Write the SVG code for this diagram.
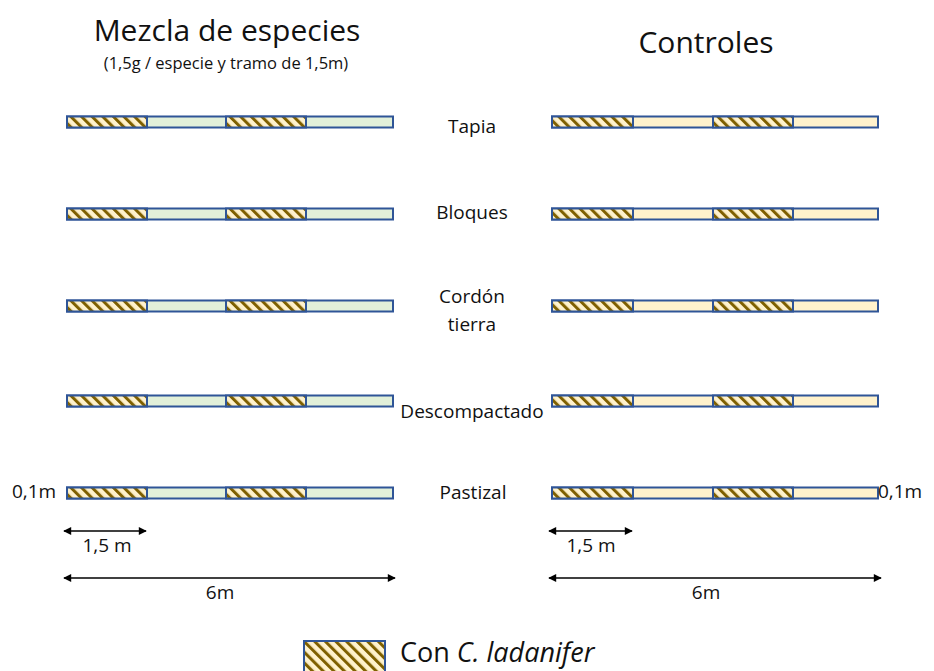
<svg xmlns="http://www.w3.org/2000/svg" width="934" height="671" viewBox="0 0 934 671">
<style>
text{font-family:"Open Sans","Liberation Sans",Arial,sans-serif;fill:#111}
.bar{stroke:#2F5597;stroke-width:2}
.g{fill:#E2F0D9}
.y{fill:#FFF2CC}
.h{fill:url(#hatch)}
.lbl{font-size:19px;text-anchor:middle}
.ttl{font-size:30px;text-anchor:middle}
.sub{font-size:16.5px;text-anchor:middle}
.ax{stroke:#000;stroke-width:1.3;fill:none;marker-start:url(#ah);marker-end:url(#ah)}
</style>
<defs>
<pattern id="hatch" patternUnits="userSpaceOnUse" width="7.5" height="7.5" patternTransform="rotate(-45)">
<rect width="7.5" height="7.5" fill="#FFF2CC"/>
<rect width="3" height="7.5" fill="#7F6000"/>
</pattern>
<marker id="ah" viewBox="0 0 10 10" refX="9" refY="5" markerWidth="10" markerHeight="8" markerUnits="userSpaceOnUse" orient="auto-start-reverse">
<path d="M0,0 L10,5 L0,10 z" fill="#000"/>
</marker>
<g id="barL">
<rect class="bar g" x="67" y="-5.5" width="326" height="11"/>
<rect class="bar h" x="67" y="-5.5" width="80" height="11"/>
<rect class="bar h" x="226" y="-5.5" width="80" height="11"/>
</g>
<g id="barR">
<rect class="bar y" x="552" y="-5.5" width="326" height="11"/>
<rect class="bar h" x="552" y="-5.5" width="81" height="11"/>
<rect class="bar h" x="713" y="-5.5" width="80" height="11"/>
</g>
</defs>
<g id="titles">
<text class="ttl" x="227" y="41">Mezcla de especies</text>
<text class="sub" x="226" y="69">(1,5g / especie y tramo de 1,5m)</text>
<text class="ttl" x="706" y="53">Controles</text>
</g>
<g id="row-tapia">
<use href="#barL" y="122"/><use href="#barR" y="122"/>
<text class="lbl" x="472" y="133">Tapia</text>
</g>
<g id="row-bloques">
<use href="#barL" y="214"/><use href="#barR" y="214"/>
<text class="lbl" x="472" y="219">Bloques</text>
</g>
<g id="row-cordon">
<use href="#barL" y="306"/><use href="#barR" y="306"/>
<text class="lbl" x="472" y="303">Cordón</text>
<text class="lbl" x="472" y="331">tierra</text>
</g>
<g id="row-descompactado">
<use href="#barL" y="401"/><use href="#barR" y="401"/>
<text class="lbl" x="472" y="418">Descompactado</text>
</g>
<g id="row-pastizal">
<use href="#barL" y="493"/><use href="#barR" y="493"/>
<text class="lbl" x="473" y="499">Pastizal</text>
<text class="lbl" x="34" y="498">0,1m</text>
<text class="lbl" x="900" y="498">0,1m</text>
</g>
<g id="connectors">
<path class="ax" d="M64,531 H146"/>
<path class="ax" d="M64,578 H395"/>
<path class="ax" d="M549,531 H632"/>
<path class="ax" d="M549,578 H881"/>
</g>
<g id="dims">
<text class="lbl" x="107" y="552">1,5 m</text>
<text class="lbl" x="220" y="599">6m</text>
<text class="lbl" x="591" y="552">1,5 m</text>
<text class="lbl" x="706" y="599">6m</text>
</g>
<g id="legend">
<rect class="bar h" x="304" y="641" width="81" height="31" stroke-width="1.5"/>
<text x="400" y="662" style="font-size:27px">Con <tspan style="font-style:italic">C. ladanifer</tspan></text>
</g>
</svg>
